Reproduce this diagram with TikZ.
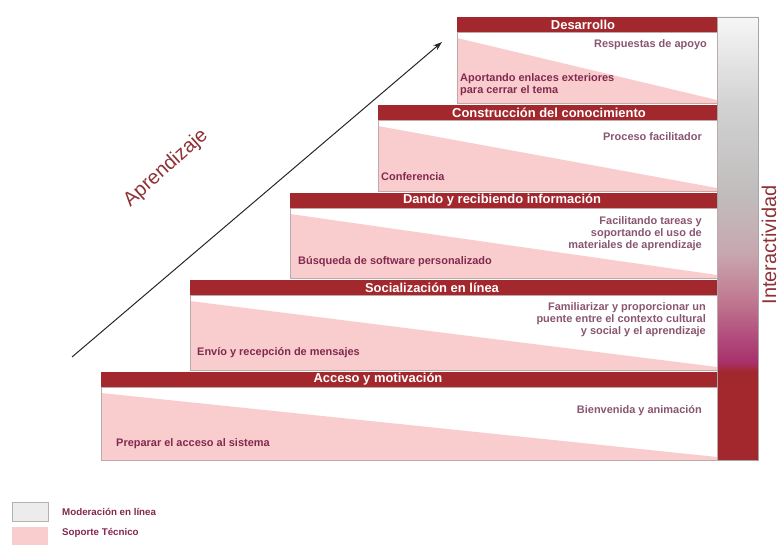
\documentclass[tikz,border=0pt]{standalone}
\usepackage{fontspec}
\setmainfont{Liberation Sans}
\usetikzlibrary{arrows.meta}
\definecolor{hdr}{HTML}{A3282E}
\definecolor{pinkc}{HTML}{F9CDCD}
\definecolor{ltxt}{HTML}{82294F}
\definecolor{rtxt}{HTML}{8A5570}
\definecolor{brd}{HTML}{BFAAAA}
\definecolor{mag1}{HTML}{A8306A}
\definecolor{mag2}{HTML}{B0487A}
\definecolor{mag3}{HTML}{C07890}
\definecolor{mag4}{HTML}{C8A8B0}
\definecolor{gry1}{HTML}{C0BCBC}
\definecolor{gry2}{HTML}{D2D2D2}
\definecolor{gry3}{HTML}{F6F6F6}
\definecolor{titc}{HTML}{8E3238}
\pgfdeclareverticalshading{interbar}{100bp}{color(0bp)=(hdr); color(25bp)=(hdr); color(35bp)=(hdr); color(36bp)=(mag1); color(38.5bp)=(mag2); color(43bp)=(mag3); color(48.5bp)=(mag4); color(55bp)=(gry1); color(65bp)=(gry2); color(75bp)=(gry3); color(100bp)=(gry3)}
\tikzset{
  hdrtext/.style={text=white, font=\bfseries\fontsize{13}{14}\selectfont, inner sep=0pt},
  ltext/.style={text=ltxt, font=\bfseries\fontsize{11}{12}\selectfont, anchor=west, align=left, inner sep=0pt},
  rtext/.style={text=rtxt, font=\bfseries\fontsize{11}{12}\selectfont, anchor=east, align=right, inner sep=0pt},
  legtext/.style={text=ltxt, font=\bfseries\fontsize{9.8}{11}\selectfont, anchor=west, inner sep=0pt},
  bigtext/.style={text=titc, font=\fontsize{20}{22}\selectfont, inner sep=0pt},
}
\begin{document}
\begin{tikzpicture}[x=1bp,y=-1bp]
\useasboundingbox (0,0) rectangle (781,545);
% interactivity bar
\shade[shading=interbar] (717,17) rectangle (758,460);
\draw[gray!70, line width=0.6bp] (717,17) rectangle (758,460);
% steps
\foreach \L/\T/\B in {457/17/103, 378/105/191, 290/193/278, 190/280/370, 101/372/460} {
  \fill[white] (\L,\T+15) rectangle (717,\B);
  \fill[pinkc] (\L,\T+21) -- (717,\B-3) -- (717,\B) -- (\L,\B) -- cycle;
  \draw[brd, line width=0.6bp] (\L,\T+15) rectangle (717,\B);
  \fill[hdr] (\L,\T) rectangle (717,\T+15);
}
% headers
\node[hdrtext] (h1) at (583,24.5) {Desarrollo};
\node[hdrtext] (h2) at (549,112.5) {Construcción del conocimiento};
\node[hdrtext] (h3) at (502,200.5) {Dando y recibiendo información};
\node[hdrtext] (h4) at (432,287.5) {Socialización en línea};
\node[hdrtext] (h5) at (378,379.5) {Acceso y motivación};
% right texts
\node[rtext] (r1) at (707,45) {Respuestas de apoyo};
\node[rtext] (r2) at (702,137) {Proceso facilitador};
\node[rtext] (r3) at (702,234) {Facilitando tareas y\\soportando el uso de\\materiales de aprendizaje};
\node[rtext] (r4) at (706,320) {Familiarizar y proporcionar un\\puente entre el contexto cultural\\y social y el aprendizaje};
\node[rtext] (r5) at (702,411) {Bienvenida y animación};
% left texts
\node[ltext] (l1) at (460,85) {Aportando enlaces exteriores\\para cerrar el tema};
\node[ltext] (l2) at (381,177) {Conferencia};
\node[ltext] (l3) at (298,262) {Búsqueda de software personalizado};
\node[ltext] (l4) at (197,353) {Envío y recepción de mensajes};
\node[ltext] (l5) at (116,444) {Preparar el acceso al sistema};
% learning arrow
\coordinate (atail) at (72,357);
\coordinate (ahead) at (442,42);
\draw[gray!30!black, line width=1bp, -{Stealth[length=9bp,width=6bp]}] (atail) -- (ahead);
\node[bigtext, rotate=42] (apr) at (166,168) {Aprendizaje};
\node[bigtext, rotate=90] (inter) at (769,245) {Interactividad};
% legend
\node[draw=gray!60, fill=gray!15, minimum width=36bp, minimum height=19bp, inner sep=0pt] (lg1) at (30,512) {};
\node[fill=pinkc, minimum width=36bp, minimum height=18bp, inner sep=0pt] (lg2) at (30,536) {};
\node[legtext] (lt1) at (62,512) {Moderación en línea};
\node[legtext] (lt2) at (62,533) {Soporte Técnico};
\end{tikzpicture}
\end{document}
